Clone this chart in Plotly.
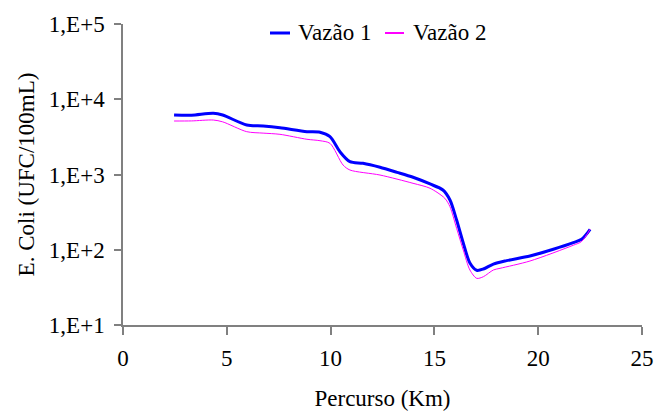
import plotly.graph_objects as go

# Data (x in km, y as E. coli UFC/100mL)
x_v1 = [2.46, 3.3, 4.35, 4.8, 5.96, 6.75, 7.56, 8.86, 9.49, 9.97, 10.45, 10.93, 11.56,
        12.38, 13.2, 13.97, 14.79, 15.41, 15.75, 16.07, 16.39, 16.71, 17.04, 17.36,
        17.84, 18.48, 19.6, 20.73, 21.69, 22.09, 22.5]
log_v1 = [3.79, 3.787, 3.813, 3.79, 3.658, 3.645, 3.622, 3.569, 3.561, 3.502, 3.303, 3.17, 3.149,
          3.096, 3.029, 2.963, 2.874, 2.794, 2.661, 2.395, 2.09, 1.824, 1.727, 1.744,
          1.81, 1.855, 1.917, 2.006, 2.094, 2.139, 2.272]

x_v2 = [2.46, 3.3, 4.35, 4.8, 5.96, 6.75, 7.56, 8.86, 9.49, 9.97, 10.6, 10.93, 12.38,
        13.97, 14.79, 15.5, 15.75, 16.07, 16.39, 16.71, 17.04, 17.36, 17.84, 18.16,
        19.6, 21.69, 22.09, 22.5]
log_v2 = [3.711, 3.712, 3.724, 3.70, 3.569, 3.55, 3.534, 3.468, 3.449, 3.414, 3.126, 3.06, 2.993,
          2.883, 2.817, 2.684, 2.572, 2.285, 1.997, 1.731, 1.62, 1.642, 1.731, 1.753,
          1.85, 2.06, 2.11, 2.272]

y_v1 = [10 ** v for v in log_v1]
y_v2 = [10 ** v for v in log_v2]

y_tickvals = [10, 100, 1000, 10000, 100000]
y_ticktext = ["1,E+1", "1,E+2", "1,E+3", "1,E+4", "1,E+5"]
x_tickvals = [0, 5, 10, 15, 20, 25]

series_names = ["Vazão 1", "Vazão 2"]
series_colors = ["#0000FF", "#FF00FF"]
series_widths = [3, 1]

FONT = "Liberation Serif"
FS = 23

fig = go.Figure()
for xs, ys, name, col, w in zip([x_v1, x_v2], [y_v1, y_v2], series_names, series_colors, series_widths):
    fig.add_trace(go.Scatter(x=xs, y=ys, mode="lines", name=name, showlegend=False,
                             line=dict(color=col, width=w, shape="spline", smoothing=0.8)))

# Manual legend (Excel-style short lines), in paper coordinates
L, R, T, B = 123, 642, 24, 325
PW, PH = R - L, B - T
def px(xp): return (xp - L) / PW
def py(yp): return (B - yp) / PH

legend_items = [(270, 290, 296), (385, 404, 411)]
for (x0, x1, xt), name, col, w in zip(legend_items, series_names, series_colors, series_widths):
    fig.add_shape(type="line", xref="paper", yref="paper", x0=px(x0), x1=px(x1),
                  y0=py(33), y1=py(33), line=dict(color=col, width=w + (0 if w > 1 else 1)))
    fig.add_annotation(xref="paper", yref="paper", x=px(xt), y=py(33), text=name,
                       showarrow=False, xanchor="left", yanchor="middle",
                       font=dict(family=FONT, size=FS, color="black"))

fig.update_layout(
    width=657, height=411,
    margin=dict(l=L, r=657 - R, t=T, b=411 - B),
    paper_bgcolor="white", plot_bgcolor="white",
    font=dict(family=FONT, size=FS, color="black"),
    showlegend=False,
)
fig.update_xaxes(
    range=[0, 25], tickvals=x_tickvals, showgrid=False, zeroline=False,
    showline=True, linecolor="#808080", linewidth=1.5,
    ticks="outside", ticklen=8, tickcolor="#808080", tickwidth=1.5,
    tickfont=dict(family=FONT, size=FS), automargin=False, ticklabelstandoff=4,
    title=dict(text="Percurso (Km)", font=dict(family=FONT, size=FS), standoff=22),
)
fig.update_yaxes(
    type="log", range=[1, 5], tickvals=y_tickvals, ticktext=y_ticktext,
    showgrid=False, zeroline=False,
    showline=True, linecolor="#808080", linewidth=1.5,
    ticks="outside", ticklen=7, tickcolor="#808080", tickwidth=1.5,
    tickfont=dict(family=FONT, size=FS), automargin=False, ticklabelstandoff=5,
    title=dict(text="E. Coli (UFC/100mL)", font=dict(family=FONT, size=FS), standoff=8),
)

fig.write_html("out.html", config={"displayModeBar": False},
               post_script="document.body.style.margin='0';document.body.style.padding='0';")
